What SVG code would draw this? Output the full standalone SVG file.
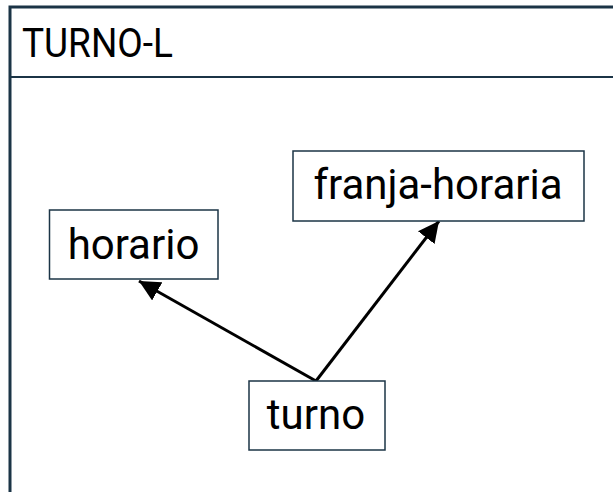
<svg xmlns="http://www.w3.org/2000/svg" width="613" height="492" viewBox="0 0 613 492">
<defs>
<style>
.frame{fill:none;stroke:#1b3446;stroke-width:3}
.box{fill:#ffffff;stroke:#1b3446;stroke-width:1.5}
.lbl{font-family:Roboto,"Liberation Sans",sans-serif;font-size:42px;fill:#000;text-anchor:middle}
.title{font-family:Roboto,"Liberation Sans",sans-serif;font-size:40px;fill:#000}
.edge{stroke:#000;stroke-width:3;fill:none}
</style>
<marker id="arr" viewBox="0 0 10 10" refX="10" refY="5" markerWidth="7" markerHeight="7" markerUnits="strokeWidth" orient="auto">
<path d="M0,0 L10,5 L0,10 z" fill="#000"/>
</marker>
</defs>
<rect width="613" height="492" fill="#ffffff"/>
<g id="frame">
<rect class="frame" x="10" y="7" width="620" height="500"/>
<line x1="10" y1="77" x2="613" y2="77" stroke="#1b3446" stroke-width="2"/>
<text class="title" x="22" y="57" textLength="151" lengthAdjust="spacingAndGlyphs">TURNO-L</text>
</g>
<g id="connectors">
<line class="edge" x1="316" y1="381" x2="139" y2="281" marker-end="url(#arr)"/>
<line class="edge" x1="316" y1="381" x2="439" y2="221" marker-end="url(#arr)"/>
</g>
<g id="horario">
<rect class="box" x="49.5" y="210" width="168.5" height="69"/>
<text class="lbl" x="133.5" y="259">horario</text>
</g>
<g id="franja-horaria">
<rect class="box" x="293" y="151" width="291" height="70"/>
<text class="lbl" x="438" y="199">franja-horaria</text>
</g>
<g id="turno">
<rect class="box" x="249" y="381" width="136" height="69"/>
<text class="lbl" x="316" y="429">turno</text>
</g>
</svg>
